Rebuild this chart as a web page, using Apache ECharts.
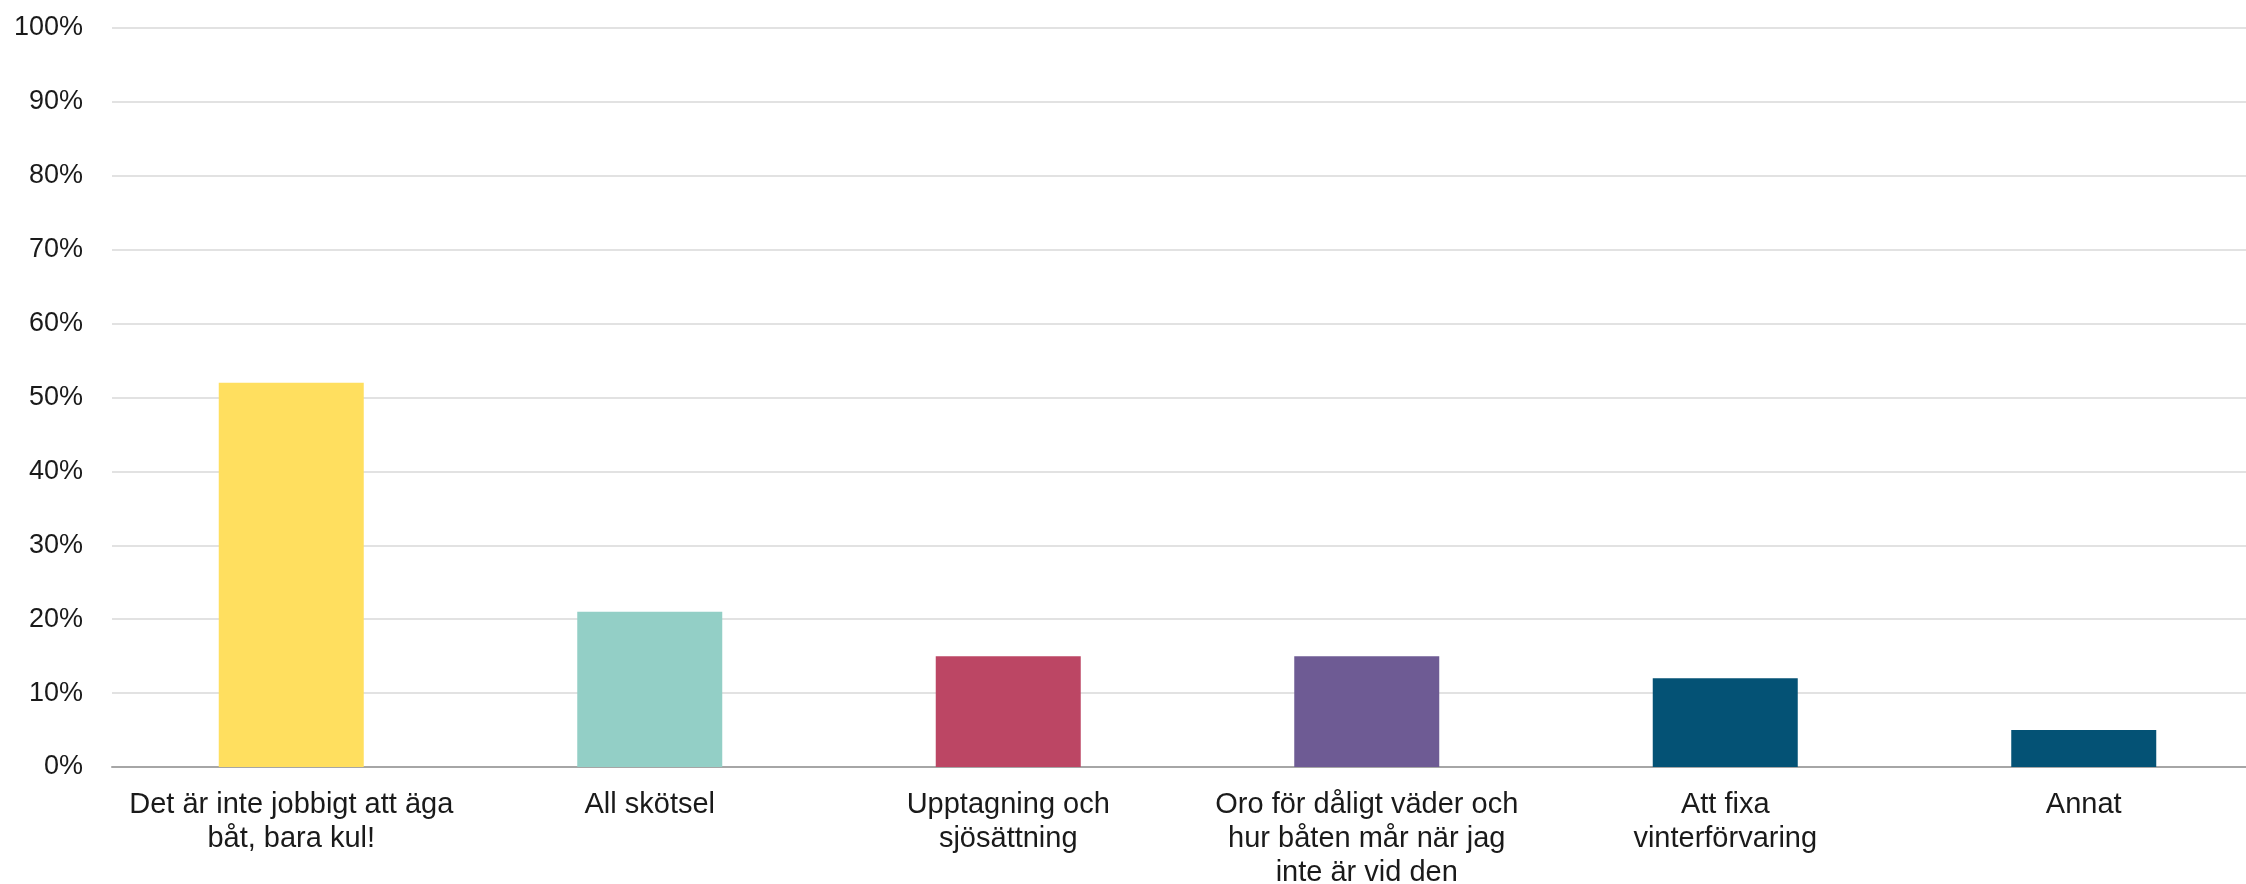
<!DOCTYPE html>
<html lang="sv">
<head>
    <meta charset="UTF-8">
    <title>Diagram</title>
    <style>
        html, body { margin: 0; padding: 0; background: #fff; }
        #chart { width: 2246px; height: 884px; }
    </style>
</head>
<body>
<div id="chart"></div>
<script src="https://cdn.jsdelivr.net/npm/echarts@6/dist/echarts.min.js"></script>
<script type="text/javascript">
    // svarsalternativ (radbrytningar som i originalet)
    var categories = [
        'Det är inte jobbigt att äga\nbåt, bara kul!',
        'All skötsel',
        'Upptagning och\nsjösättning',
        'Oro för dåligt väder och\nhur båten mår när jag\ninte är vid den',
        'Att fixa\nvinterförvaring',
        'Annat'
    ];
    var values = [52, 21, 15, 15, 12, 5];
    var barColors = ['#FFDF5F', '#93CFC6', '#BC4664', '#6E5B94', '#045275', '#045275'];
    var yTicks = [0, 10, 20, 30, 40, 50, 60, 70, 80, 90, 100];

    var chart = echarts.init(document.getElementById('chart'));

    var data = [];
    for (var i = 0; i < values.length; i++) {
        data.push({ value: values[i], itemStyle: { color: barColors[i] } });
    }

    var option = {
        animation: false,
        textStyle: { fontFamily: 'Liberation Sans' },
        grid: {
            left: 112, right: -17, top: 28, bottom: 117,
            containLabel: false,
            outerBoundsMode: 'none'
        },
        xAxis: {
            type: 'category',
            data: categories,
            axisLine: { lineStyle: { color: '#A6A6A6', width: 2 } },
            axisTick: { show: false },
            axisLabel: {
                color: '#1a1a1a',
                fontSize: 29,
                lineHeight: 34,
                margin: 21,
                interval: 0
            }
        },
        yAxis: {
            type: 'value',
            min: yTicks[0],
            max: yTicks[yTicks.length - 1],
            interval: 10,
            axisLine: { show: false },
            axisTick: { show: false },
            splitLine: { lineStyle: { color: '#D9D9D9', width: 1.5 } },
            axisLabel: {
                color: '#1a1a1a',
                fontSize: 27,
                margin: 29,
                formatter: '{value}%'
            }
        },
        series: [{
            type: 'bar',
            data: data,
            barWidth: 145
        }]
    };

    chart.setOption(option);
</script>
</body>
</html>
